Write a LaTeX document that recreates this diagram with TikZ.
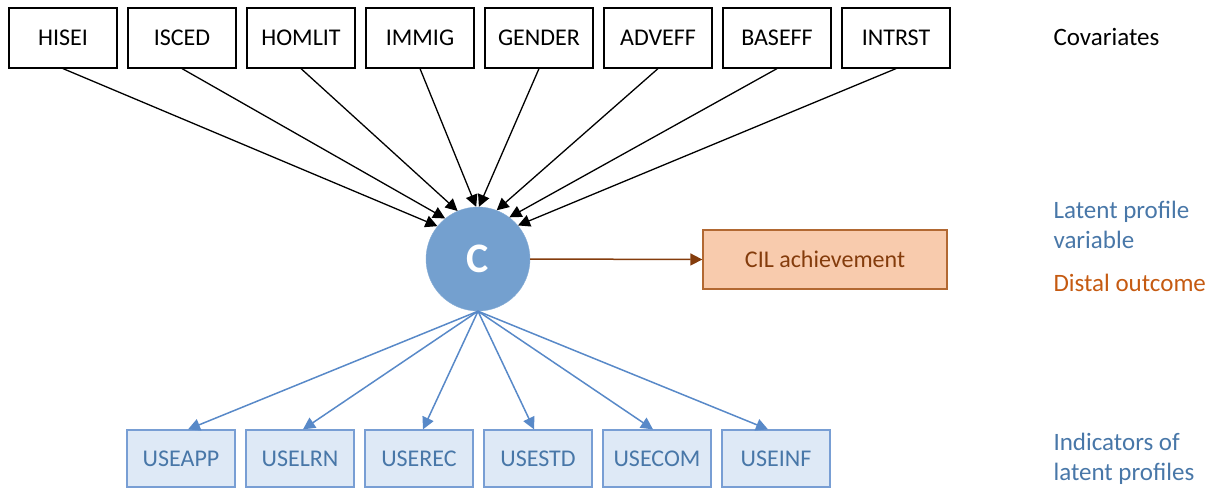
\documentclass[tikz,border=0pt]{standalone}
\usepackage{fontspec}
\setmainfont{Carlito}
\usepackage{tikz}
\usetikzlibrary{arrows.meta, positioning}
\usepackage{xcolor}
\definecolor{CircleBlue}{RGB}{116, 160, 207}
\definecolor{LiteBlue}{RGB}{222, 233, 246}
\definecolor{EdgeBlue}{RGB}{120, 158, 212}
\definecolor{PathBlue}{RGB}{88, 137, 200}
\definecolor{TextBlue}{RGB}{72, 119, 168}
\definecolor{LiteOrange}{RGB}{248, 203, 173}
\definecolor{Brown}{RGB}{132, 60, 12}
\definecolor{EdgeBrown}{RGB}{178, 104, 50}
\definecolor{Orange}{RGB}{197, 90, 17}
\tikzset{%
  covar_block/.style={%
    rectangle,%
    draw=black,%
    line width=1.2pt,%
    minimum width=108pt,%
    minimum height=60pt,%
    font={\fontsize{24}{28}\selectfont},%
    align=center%
  },
  indicator_block/.style={%
    rectangle,%
    draw=EdgeBlue,%
    fill=LiteBlue,%
    line width=1.3pt,%
    minimum width=108pt,%
    minimum height=57pt,%
    text=TextBlue,%
    font={\fontsize{24}{28}\selectfont},%
    align=center%
  },
  latent_circle/.style={%
    circle,%
    fill=CircleBlue,%
    draw=CircleBlue!85!white,%
    minimum size=104pt,%
    text=white,%
    font={\fontsize{42}{46}\selectfont\bfseries}%
  },
  outcome_block/.style={%
    rectangle,%
    draw=EdgeBrown,%
    fill=LiteOrange,%
    line width=1.3pt,%
    minimum width=244pt,%
    minimum height=59pt,%
    text=Brown,%
    font={\fontsize{24}{28}\selectfont},%
    align=center%
  },
  side_annotate/.style={%
    anchor=west,%
    align=left,%
    font={\fontsize{25}{30}\selectfont},%
  },
  arrow/.style={-{Triangle[length=12pt, width=12pt]}},
  covar_path/.style={%
    color=black,%
    line width=1.3pt,%
  },
  indicator_path/.style={%
    color=PathBlue,%
    line width=1.5pt,%
  },
  outcome_path/.style={%
    color=Brown,%
    line width=1.5pt,%
  },
}
\begin{document}
\begin{tikzpicture}[x=1pt, y=-1pt]
    \useasboundingbox (0, 0) rectangle (1214, 491);

    \node [covar_block] (HISEI) at (63, 38) {HISEI};
    \node [covar_block, right = 9.8pt of HISEI] (ISCED) {ISCED};
    \node [covar_block, right = 9.8pt of ISCED] (HOMLIT) {HOMLIT};
    \node [covar_block, right = 9.8pt of HOMLIT] (IMMIG) {IMMIG};
    \node [covar_block, right = 9.8pt of IMMIG] (GENDER) {GENDER};
    \node [covar_block, right = 9.8pt of GENDER] (ADVEFF) {ADVEFF};
    \node [covar_block, right = 9.8pt of ADVEFF] (BASEFF) {BASEFF};
    \node [covar_block, right = 9.8pt of BASEFF] (INTRST) {INTRST};

    \node [latent_circle] (C) at (478, 259) {C};
    \node [outcome_block] (CIL) at (825, 259.5) {CIL achievement};

    \node [indicator_block] (USEAPP) at (181, 458.5) {USEAPP};
    \node [indicator_block, right = 9.7pt of USEAPP] (USELRN) {USELRN};
    \node [indicator_block, right = 9.7pt of USELRN] (USEREC) {USEREC};
    \node [indicator_block, right = 9.7pt of USEREC] (USESTD) {USESTD};
    \node [indicator_block, right = 9.7pt of USESTD] (USECOM) {USECOM};
    \node [indicator_block, right = 9.7pt of USECOM] (USEINF) {USEINF};

    \node [side_annotate] (covariates) at (1050, 37) {Covariates};
    \node [side_annotate, text=TextBlue] (latent) at (1050, 225)
      {Latent profile\\variable};
    \node [side_annotate, text=Orange] (distal) at (1050, 283)
      {Distal outcome};
    \node [side_annotate, text=TextBlue] (indicators) at (1050, 459)
      {Indicators of\\latent profiles};

    \draw [arrow, covar_path] (HISEI.south) -- (C.141);
    \draw [arrow, covar_path] (ISCED.south) -- (C.129);
    \draw [arrow, covar_path] (HOMLIT.south) -- (C.113);
    \draw [arrow, covar_path] (IMMIG.south) -- (C.92);
    \draw [arrow, covar_path] (GENDER.south) -- (C.89);
    \draw [arrow, covar_path] (ADVEFF.south) -- (C.69);
    \draw [arrow, covar_path] (BASEFF.south) -- (C.53);
    \draw [arrow, covar_path] (INTRST.south) -- (C.40);

    \draw [arrow, outcome_path] (C.east) -- (CIL.west);

    \draw [arrow, indicator_path] (C.south) -- ([xshift=7pt]USEAPP.north);
    \draw [arrow, indicator_path] (C.south) -- ([xshift=3pt]USELRN.north);
    \draw [arrow, indicator_path] (C.south) -- ([xshift=4pt]USEREC.north);
    \draw [arrow, indicator_path] (C.south) -- ([xshift=-4pt]USESTD.north);
    \draw [arrow, indicator_path] (C.south) -- ([xshift=-4pt]USECOM.north);
    \draw [arrow, indicator_path] (C.south) -- ([xshift=-8pt]USEINF.north);
  \end{tikzpicture}
\end{document}
